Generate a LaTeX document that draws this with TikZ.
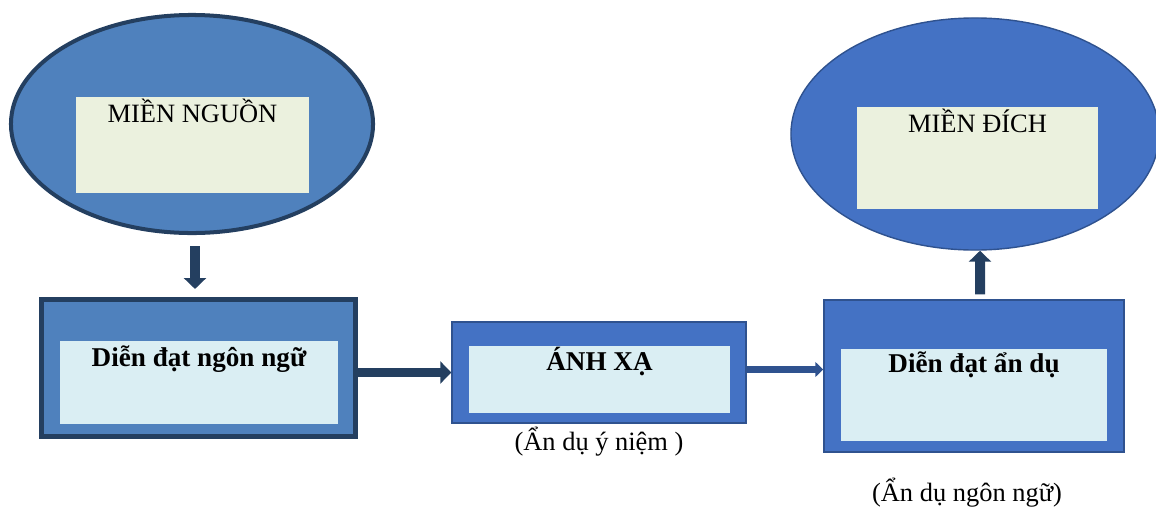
\documentclass[tikz,border=0pt]{standalone}
\usepackage{fontspec}
\setmainfont{Liberation Serif}
\usetikzlibrary{arrows.meta, positioning, shapes.geometric}

\definecolor{navy}{HTML}{243F60}
\definecolor{steel}{HTML}{4F81BD}
\definecolor{royal}{HTML}{4472C4}
\definecolor{royaledge}{HTML}{2F528F}
\definecolor{palegreen}{HTML}{EBF1DE}
\definecolor{paleblue}{HTML}{DAEEF3}

\tikzset{
  lbl/.style={font=\fontsize{18.8}{22}\selectfont, inner sep=0pt},
  bold lbl/.style={lbl, font=\fontsize{19.3}{22}\selectfont\bfseries},
  greenbox/.style={rectangle, fill=palegreen, inner sep=0pt},
  bluebox/.style={rectangle, fill=paleblue, inner sep=0pt},
  bigarrow/.style={navy, line width=7.1pt, -{Triangle[width=15.6pt, length=7.8pt]}},
  thinarrow/.style={royaledge, line width=4.6pt, -{Triangle[width=10.6pt, length=5.7pt]}}
}

\begin{document}
\begin{tikzpicture}[x=0.025cm, y=-0.025cm]
  \useasboundingbox (0,0) rectangle (1156,507);

  % source domain (left ellipse)
  \node[ellipse, draw=navy, line width=2.85pt, fill=steel,
        minimum width=9.05cm, minimum height=5.45cm] (src) at (192,124) {};
  \node[greenbox, minimum width=5.825cm, minimum height=2.4cm] (srcin) at (192.5,145) {};
  \node[lbl, anchor=base] (srctxt) at ([yshift=-0.65cm]srcin.north) {MIỀN NGUỒN};

  % linguistic expression
  \node[rectangle, draw=navy, line width=3.56pt, fill=steel,
        minimum width=7.85cm, minimum height=3.425cm] (ling) at (198.5,368) {};
  \node[bluebox, minimum width=6.95cm, minimum height=2.075cm] (lingin) at (199,382.5) {};
  \node[bold lbl, anchor=base] (lingtxt) at ([yshift=-0.65cm]lingin.north) {Diễn đạt ngôn ngữ};

  % mapping
  \node[rectangle, draw=royaledge, line width=1pt, fill=royal,
        minimum width=7.35cm, minimum height=2.525cm] (map) at (599,372.5) {};
  \node[bluebox, minimum width=6.525cm, minimum height=1.675cm] (mapin) at (599.5,379.5) {};
  \node[bold lbl, anchor=base] (maptxt) at ([yshift=-0.625cm]mapin.north) {ÁNH XẠ};
  \node[lbl, anchor=base] (mapcap) at ([yshift=-0.68cm]map.south) {(Ẩn dụ ý niệm )};

  % metaphorical expression
  \node[rectangle, draw=royaledge, line width=1pt, fill=royal,
        minimum width=7.5cm, minimum height=3.8cm] (met) at (974,376) {};
  \node[bluebox, minimum width=6.65cm, minimum height=2.3cm] (metin) at (974,395) {};
  \node[bold lbl, anchor=base] (mettxt) at ([yshift=-0.6cm]metin.north) {Diễn đạt ẩn dụ};
  \node[lbl, anchor=base] (metcap) at ([xshift=-0.175cm, yshift=-1.21cm]met.south) {(Ẩn dụ ngôn ngữ)};

  % target domain (right ellipse), runs off the right edge
  \node[ellipse, draw=royaledge, line width=1pt, fill=royal,
        minimum width=9.2cm, minimum height=5.8cm] (tgt) at (975,134) {};
  \node[greenbox, minimum width=6.025cm, minimum height=2.55cm] (tgtin) at (977.5,158) {};
  \node[lbl, anchor=base] (tgttxt) at ([yshift=-0.65cm]tgtin.north) {MIỀN ĐÍCH};

  % arrows
  \draw[bigarrow] ([xshift=0.075cm, yshift=-0.275cm]src.south)
    -- ([xshift=-0.0875cm, yshift=0.2cm]ling.north);
  \draw[bigarrow] (ling.east |- map.west) -- (map.west);
  \draw[thinarrow] ([yshift=0.075cm]map.east) -- ([yshift=0.075cm]map.east -| met.west);
  \draw[bigarrow] ([xshift=0.15cm, yshift=0.125cm]met.north) -- ([xshift=0.125cm]tgt.south);
\end{tikzpicture}
\end{document}
